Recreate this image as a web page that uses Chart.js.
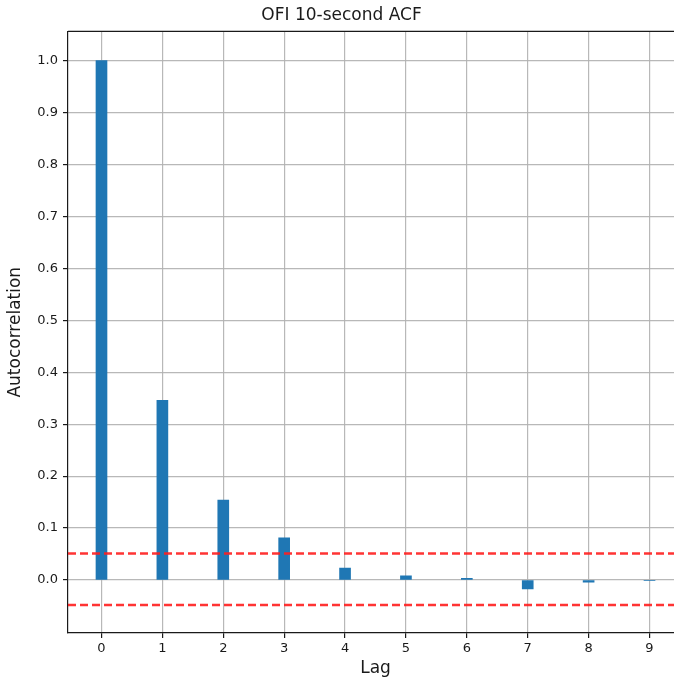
<!DOCTYPE html>
<html>
<head>
<meta charset="utf-8">
<script src="https://cdn.jsdelivr.net/npm/chart.js@4"></script>
<style>
  html, body { margin: 0; padding: 0; background: #fff; overflow: hidden; }
  #wrap { width: 690px; height: 682px; }
</style>
</head>
<body>
<div id="wrap"><canvas id="acf"></canvas></div>
<script>
// ─── Data ───
const lags = [0, 1, 2, 3, 4, 5, 6, 7, 8, 9];
const acf = [1.0, 0.346, 0.154, 0.081, 0.023, 0.008, 0.003, -0.017, -0.004, -0.001];
const confUpper = 0.051;
const confLower = -0.048;
const yTicks = [0.0, 0.1, 0.2, 0.3, 0.4, 0.5, 0.6, 0.7, 0.8, 0.9, 1.0];
const xRange = [-0.55, 9.55];
const yRange = [-0.102, 1.056];

const FONT = "'DejaVu Sans', sans-serif";
const ink = '#1a1a1a';
const gridCol = 'rgba(176,176,176,0.9)';

// top spine (right one falls outside the picture)
const frame = {
    id: 'frame',
    afterDraw(chart) {
        const { ctx, chartArea: a } = chart;
        ctx.save();
        ctx.strokeStyle = ink;
        ctx.lineWidth = 1.2;
        ctx.beginPath();
        ctx.moveTo(a.left, a.top);
        ctx.lineTo(a.right, a.top);
        ctx.stroke();
        ctx.restore();
    }
};

const hline = v => xRange.map(x => ({ x, y: v }));

new Chart(document.getElementById('acf'), {
    data: {
        datasets: [
            { type: 'bar', data: lags.map((l, i) => ({ x: l, y: acf[i] })),
              backgroundColor: '#1f77b4', barThickness: 11, order: 2 },
            { type: 'line', data: hline(confUpper), borderColor: 'rgba(255,30,30,0.9)',
              borderWidth: 2.4, borderDash: [8, 4], pointRadius: 0, order: 1 },
            { type: 'line', data: hline(confLower), borderColor: 'rgba(255,30,30,0.9)',
              borderWidth: 2.4, borderDash: [8, 4], pointRadius: 0, order: 1 }
        ]
    },
    options: {
        responsive: true,
        maintainAspectRatio: false,
        animation: false,
        layout: { padding: { left: 0, right: 7, top: 0, bottom: 0 } },
        plugins: {
            legend: { display: false },
            tooltip: { enabled: false },
            title: { display: true, text: 'OFI 10-second ACF', color: ink,
                     font: { family: FONT, size: 17, weight: 'normal' }, padding: { top: 5, bottom: 6 } }
        },
        scales: {
            x: {
                type: 'linear', min: xRange[0], max: xRange[1], offset: false,
                afterBuildTicks: s => { s.ticks = lags.map(v => ({ value: v })); },
                afterFit: s => { s.height = 49; },
                grid: { offset: false, color: gridCol, lineWidth: 1.2, tickColor: ink, tickLength: 5 },
                border: { color: ink, width: 1.2 },
                ticks: { color: ink, font: { family: FONT, size: 13 }, padding: 3 },
                title: { display: true, text: 'Lag', color: ink,
                         font: { family: FONT, size: 17 }, padding: { top: 0, bottom: 3 } }
            },
            y: {
                min: yRange[0], max: yRange[1],
                afterBuildTicks: s => { s.ticks = yTicks.map(v => ({ value: v })); },
                afterFit: s => { s.width = 68; },
                grid: { color: gridCol, lineWidth: 1.2, tickColor: ink, tickLength: 5 },
                border: { color: ink, width: 1.2 },
                ticks: { color: ink, font: { family: FONT, size: 13 }, padding: 5,
                         callback: v => v.toFixed(1) },
                title: { display: true, text: 'Autocorrelation', color: ink,
                         font: { family: FONT, size: 17 }, padding: { top: 5, bottom: 9 } }
            }
        }
    },
    plugins: [frame]
});
</script>
</body>
</html>
